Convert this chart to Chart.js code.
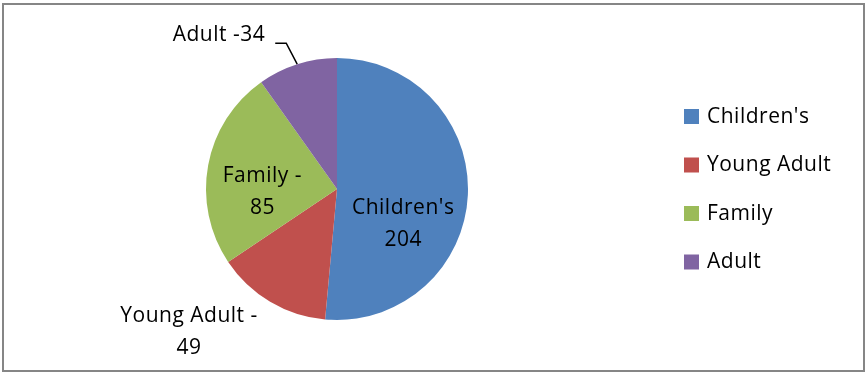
<!DOCTYPE html>
<html>
<head>
<meta charset="utf-8">
<script src="https://cdn.jsdelivr.net/npm/chart.js@4.4.0/dist/chart.umd.min.js"></script>
<style>
  html, body { margin: 0; padding: 0; background: #fff; }
  #wrap { width: 866px; height: 373px; position: relative; }
</style>
</head>
<body>
<div id="wrap"><canvas id="myChart" width="866" height="373"></canvas></div>
<script>
const categories = ["Children's", "Young Adult", "Family", "Adult"];
// slice sizes as drawn in the picture (the Children's slice is drawn smaller than its label says)
const sliceValues = [178, 49, 85, 34];
// numbers written in the data labels
const labelValues = [204, 49, 85, 34];
const colors = ['#4F81BD', '#C0504D', '#9BBB59', '#8064A2'];
// label text per slice (lines)
const labelLines = [
    [categories[0], String(labelValues[0])],
    [categories[1] + " -", String(labelValues[1])],
    [categories[2] + " -", String(labelValues[2])],
    [categories[3] + " -" + labelValues[3]]
];
// where each label sits: angle in degrees (canvas), distance in pie radii
const labelPos = [
    {ang: 27.6, dist: 0.57},
    {ang: 136, dist: 1.57},
    {ang: 177.7, dist: 0.57},
    {ang: 232.5, dist: 1.48}
];

const FONT = "'Open Sans', sans-serif";

const frame = {
    id: 'frame',
    beforeDraw(chart) {
        const c = chart.ctx;
        c.save();
        c.fillStyle = '#fff';
        c.fillRect(0, 0, chart.width, chart.height);
        c.strokeStyle = '#868686';
        c.lineWidth = 2;
        c.strokeRect(3, 4, chart.width - 5, chart.height - 6);
        c.restore();
    }
};

const labelsAndLegend = {
    id: 'labelsAndLegend',
    afterDatasetsDraw(chart) {
        const c = chart.ctx;
        const arcs = chart.getDatasetMeta(0).data;
        const cx = arcs[0].x, cy = arcs[0].y, r = arcs[0].outerRadius;
        c.save();
        c.font = '21px ' + FONT;
        c.letterSpacing = '0.5px';
        c.fillStyle = '#000';
        c.textAlign = 'center';
        c.textBaseline = 'middle';
        for (let i = 0; i < arcs.length; i++) {
            const a = labelPos[i].ang * Math.PI / 180;
            const lx = cx + Math.cos(a) * labelPos[i].dist * r;
            const ly = cy + Math.sin(a) * labelPos[i].dist * r;
            const lines = labelLines[i];
            const top = ly - (lines.length - 1) * 16;
            for (let j = 0; j < lines.length; j++) {
                c.fillText(lines[j], lx, top + j * 32);
            }
            // leader line for the adult label
            if (i == 3) {
                const arc = arcs[i];
                const mid = (arc.startAngle + arc.endAngle) / 2;
                const sx = cx + Math.cos(mid) * r, sy = cy + Math.sin(mid) * r;
                const w = c.measureText(lines[0]).width;
                const ex = lx + w / 2 + 10;
                const ey = ly + 8;
                c.strokeStyle = '#000';
                c.lineWidth = 1.5;
                c.beginPath();
                c.moveTo(sx, sy);
                c.lineTo(ex + 11, ey);
                c.lineTo(ex, ey);
                c.stroke();
            }
        }
        // legend
        c.textAlign = 'left';
        const legX = 684, legY = 116, gap = 48.5;
        for (let i = 0; i < categories.length; i++) {
            const y = legY + i * gap;
            c.fillStyle = colors[i];
            c.fillRect(legX, y - 7, 15, 15);
            c.fillStyle = '#000';
            c.fillText(categories[i], legX + 23, y + 1);
        }
        c.restore();
    }
};

new Chart(document.getElementById('myChart'), {
    type: 'pie',
    data: {
        labels: categories,
        datasets: [{
            data: sliceValues,
            backgroundColor: colors,
            borderWidth: 0
        }]
    },
    options: {
        responsive: false,
        animation: false,
        layout: {
            padding: {left: 206, right: 398, top: 58, bottom: 53}
        },
        plugins: {
            legend: { display: false },
            tooltip: { enabled: false }
        }
    },
    plugins: [frame, labelsAndLegend]
});
</script>
</body>
</html>
